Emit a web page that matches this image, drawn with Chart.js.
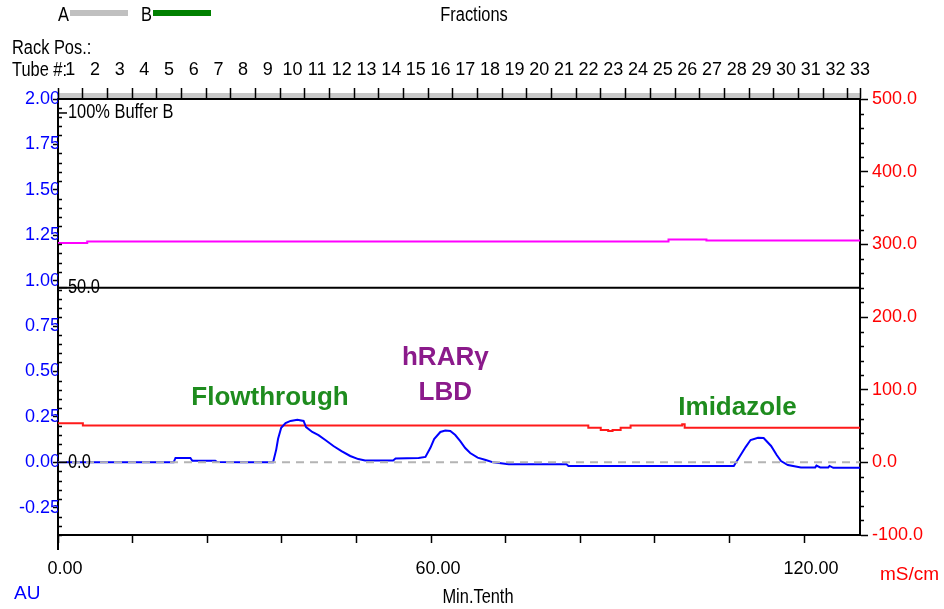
<!DOCTYPE html>
<html>
<head>
<meta charset="utf-8">
<title>Fractions</title>
<script src="https://cdn.jsdelivr.net/npm/chart.js@4.4.0/dist/chart.umd.min.js"></script>
<style>
  body { margin: 0; background: #fff; }
  #wrap { position: relative; width: 944px; height: 609px; }
</style>
</head>
<body>
<div id="wrap"><canvas id="chart" width="944" height="609"></canvas></div>
<script>
const SANS = '"Liberation Sans", Arial, sans-serif';
const TICKFONT = { family: SANS, size: 18 };

// UV absorbance (AU) vs time (Min.Tenth)
const uvTime = [0, 18.6, 18.9, 21.3, 21.6, 25.3, 25.6, 29.3, 34.6, 35.1, 35.4, 35.9, 36.6, 37.4, 38.5, 39.5, 39.9,
  40.9, 41.9, 43.0, 44.3, 45.6, 47.0, 48.3, 49.4, 53.9, 54.3, 58.0, 59.1, 59.9, 60.5, 61.5, 62.3, 63.1, 63.9,
  64.7, 65.5, 66.3, 67.5, 68.8, 70.0, 72.5, 81.8, 82.1, 108.7, 109.8, 110.6, 111.4, 112.6, 113.5, 114.7, 115.6,
  116.3, 117.4, 119.5, 121.8, 122.0, 122.6, 123.9, 124.1, 124.7, 129.0];
const uvAbs = [0, 0, 0.024, 0.024, 0.009, 0.009, 0.002, 0, 0, 0.07, 0.13, 0.19, 0.216, 0.228, 0.234, 0.228, 0.194,
  0.167, 0.15, 0.123, 0.09, 0.062, 0.035, 0.018, 0.01, 0.01, 0.021, 0.024, 0.03, 0.08, 0.128, 0.167, 0.175, 0.172, 0.15,
  0.117, 0.079, 0.051, 0.026, 0.013, 0, -0.011, -0.011, -0.02, -0.02, 0.04, 0.084, 0.123, 0.135, 0.134, 0.09, 0.04,
  0.007, -0.015, -0.028, -0.028, -0.018, -0.028, -0.028, -0.02, -0.03, -0.03];

// conductivity (mS/cm), value holds from its time on
const condTime = [0, 4.0, 85.3, 87.3, 88.5, 89.2, 90.5, 92.1, 100.4, 100.8, 129.0];
const condValue = [53.8, 50.8, 47.7, 44.6, 43.2, 44.6, 47.7, 50.8, 52.5, 47.7, 47.7];

// magenta trace, right axis, value holds from its time on
const pinkTime = [0, 4.7, 98.2, 104.3, 129.0];
const pinkValue = [301.8, 303.9, 306.6, 305.2, 305.2];

// concentration B (%)
const concTime = [0, 129.0];
const concValue = [50, 50];

const auTicks = [-0.25, 0, 0.25, 0.5, 0.75, 1.0, 1.25, 1.5, 1.75, 2.0];
const msTicks = [-100, 0, 100, 200, 300, 400, 500];
const timeTicks = [0, 12, 24, 36, 48, 60, 72, 84, 96, 108, 120];
const timeLabelled = [0, 60, 120];
const tubeLabels = ['1', '2', '3', '4', '5', '6', '7', '8', '9', '10', '11', '12', '13', '14', '15', '16', '17',
  '18', '19', '20', '21', '22', '23', '24', '25', '26', '27', '28', '29', '30', '31', '32', '33'];
const fractionWidth = 3.97;
const timeMax = 129;

function pts(xs, ys) { return xs.map((x, i) => ({x: x, y: ys[i]})); }

// sx < 1 squeezes the text sideways to mimic the narrow instrument font
function text(ctx, s, x, y, font, color, align, sx) {
  ctx.save();
  ctx.font = font;
  ctx.fillStyle = color;
  ctx.textAlign = align || 'left';
  ctx.textBaseline = 'middle';
  ctx.translate(x, y);
  ctx.scale(sx || 1, 1);
  ctx.fillText(s, 0, 0);
  ctx.restore();
}

const decor = {
  id: 'decor',
  beforeDraw(chart) {
    const ctx = chart.ctx, a = chart.chartArea;
    ctx.save();
    ctx.fillStyle = '#c8c8c8';
    ctx.fillRect(a.left, a.top - 6, a.right - a.left, 6);
    ctx.restore();
  },
  afterDraw(chart) {
    const ctx = chart.ctx, a = chart.chartArea;
    const x = chart.scales.x, y = chart.scales.y, yR = chart.scales.yR, yB = chart.scales.yB;
    const nf = '20px ' + SANS;
    const nx = 0.82;
    ctx.save();

    // header
    text(ctx, 'A', 58, 15, nf, '#000', 'left', nx);
    ctx.fillStyle = '#c0c0c0'; ctx.fillRect(70, 10, 58, 6);
    text(ctx, 'B', 141, 15, nf, '#000', 'left', nx);
    ctx.fillStyle = '#008000'; ctx.fillRect(153, 10, 58, 6);
    text(ctx, 'Fractions', 474, 15, nf, '#000', 'center', nx);
    text(ctx, 'Rack Pos.:', 12, 48, nf, '#000', 'left', nx);
    text(ctx, 'Tube #:', 12, 70, nf, '#000', 'left', nx);

    // minor ticks
    ctx.strokeStyle = '#000';
    ctx.lineWidth = 1.5;
    ctx.beginPath();
    for (let k = -8; k <= 40; k++) {
      if (k % 5 === 0) continue;
      const py = Math.round(y.getPixelForValue(k * 0.05)) + 0.5;
      ctx.moveTo(a.left, py); ctx.lineTo(a.left + 4, py);
    }
    for (let v = -80; v < 500; v += 20) {
      if (v % 100 === 0) continue;
      const py = Math.round(yR.getPixelForValue(v)) + 0.5;
      ctx.moveTo(a.right, py); ctx.lineTo(a.right + 4, py);
    }
    ctx.stroke();

    ctx.lineWidth = 2;
    ctx.beginPath();
    ctx.moveTo(a.left, a.bottom); ctx.lineTo(a.left, a.bottom + 15);
    ctx.stroke();

    // %B axis marks
    ctx.lineWidth = 1.5;
    [[100, '100% Buffer B'], [50, '50.0'], [0, '0.0']].forEach(([v, s]) => {
      const py = yB.getPixelForValue(v);
      ctx.beginPath();
      ctx.moveTo(a.left, py); ctx.lineTo(a.left + 9, py);
      ctx.stroke();
      text(ctx, s, a.left + 10, py, nf, '#000', 'left', nx);
    });

    // axis captions
    text(ctx, 'AU', 14, 594, '19px ' + SANS, '#0000ff');
    text(ctx, 'Min.Tenth', 478, 597, nf, '#000', 'center', nx);
    text(ctx, 'mS/cm', 880, 575, '19px ' + SANS, '#ff0000');

    // peak annotations
    const bf = 'bold 26px ' + SANS;
    text(ctx, 'Flowthrough', x.getPixelForValue(34.1), y.getPixelForValue(0.354), bf, '#1e8c1e', 'center');
    text(ctx, 'hRARγ', x.getPixelForValue(62.3), y.getPixelForValue(0.575), bf, '#8b1a8b', 'center');
    text(ctx, 'LBD', x.getPixelForValue(62.3), y.getPixelForValue(0.382), bf, '#8b1a8b', 'center');
    text(ctx, 'Imidazole', x.getPixelForValue(109.3), y.getPixelForValue(0.30), bf, '#1e8c1e', 'center');
    ctx.restore();
  }
};

const ctx = document.getElementById('chart').getContext('2d');
const chart = new Chart(ctx, {
  type: 'line',
  data: {
    datasets: [
      { label: 'baseline', data: pts([0, timeMax], [0, 0]), borderColor: '#b4b4b4', borderDash: [8, 6], borderWidth: 2, yAxisID: 'y' },
      { label: 'UV', data: pts(uvTime, uvAbs), borderColor: '#0000ff', borderWidth: 2, yAxisID: 'y' },
      { label: 'Cond', data: pts(condTime, condValue), borderColor: '#ff1a1a', borderWidth: 2, stepped: 'before', yAxisID: 'yR' },
      { label: 'Pink', data: pts(pinkTime, pinkValue), borderColor: '#ff00ff', borderWidth: 2, stepped: 'before', yAxisID: 'yR' },
      { label: 'Conc B', data: pts(concTime, concValue), borderColor: '#000000', borderWidth: 2, yAxisID: 'yB' }
    ]
  },
  options: {
    responsive: false,
    animation: false,
    layout: { padding: 0 },
    elements: { point: { radius: 0 }, line: { tension: 0 } },
    plugins: { legend: { display: false }, tooltip: { enabled: false } },
    scales: {
      x: {
        type: 'linear', position: 'bottom', min: 0, max: timeMax,
        afterBuildTicks: s => { s.ticks = timeTicks.map(v => ({value: v})); },
        afterFit: s => { s.height = 74; },
        ticks: {
          autoSkip: false, maxRotation: 0, color: '#000', font: TICKFONT,
          padding: 15, labelOffset: 7,
          callback: v => timeLabelled.includes(v) ? v.toFixed(2) : ''
        },
        grid: { drawOnChartArea: false, tickLength: 8, tickColor: '#000', tickWidth: 1.5 },
        border: { color: '#000', width: 2 }
      },
      xTop: {
        type: 'linear', position: 'top', min: 0, max: timeMax,
        afterBuildTicks: s => { s.ticks = tubeLabels.map((t, i) => ({value: i * fractionWidth})).concat([{value: timeMax}]); },
        afterFit: s => { s.height = 99; },
        ticks: {
          autoSkip: false, maxRotation: 0, color: '#000', font: TICKFONT,
          padding: 7, labelOffset: 12.3,
          callback: (v, i) => tubeLabels[i] || ''
        },
        grid: { drawOnChartArea: false, tickLength: 11, tickColor: '#000', tickWidth: 1.5 },
        border: { color: '#000', width: 2 }
      },
      y: {
        position: 'left', min: -0.4, max: 2.0,
        afterBuildTicks: s => { s.ticks = auTicks.map(v => ({value: v})); },
        afterFit: s => { s.width = 58; },
        ticks: { color: '#0000ff', font: TICKFONT, padding: -7, callback: v => v.toFixed(2) },
        grid: { drawOnChartArea: false, tickLength: 5, tickColor: '#000', tickWidth: 1.5 },
        border: { color: '#000', width: 2 }
      },
      yR: {
        position: 'right', min: -100, max: 500,
        afterBuildTicks: s => { s.ticks = msTicks.map(v => ({value: v})); },
        afterFit: s => { s.width = 84; },
        ticks: { color: '#ff0000', font: TICKFONT, padding: 4, callback: v => v.toFixed(1) },
        grid: { drawOnChartArea: false, tickLength: 8, tickColor: '#000', tickWidth: 1.5 },
        border: { color: '#000', width: 2 }
      },
      yB: { display: false, min: -20.8, max: 104 }
    }
  },
  plugins: [decor]
});
</script>
</body>
</html>
